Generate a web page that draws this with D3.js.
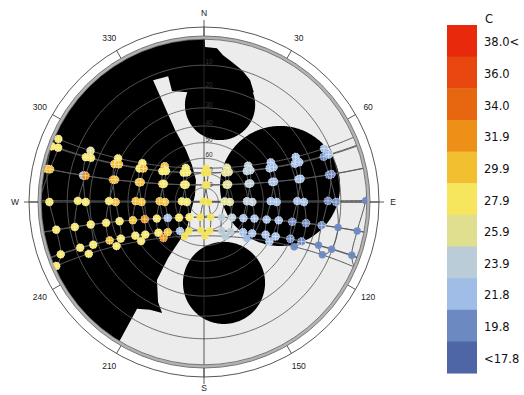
<!DOCTYPE html>
<html><head><meta charset="utf-8">
<script src="https://cdn.jsdelivr.net/npm/d3@7"></script>
<style>html,body{margin:0;padding:0;background:#fff}svg{display:block}</style>
</head><body>
<svg id="chart" width="524" height="395"></svg>
<script>
// ---------------- data ----------------
const months = ["Jan","Feb","Mar","Apr","May","Jun","Jul","Aug","Sep","Oct","Nov","Dec"];
// declination of each monthly sun-path line (deg)
const declination = [-20.0,-10.6,0.0,11.9,20.1,23.4,20.4,12.0,0.5,-10.7,-19.8,-23.4];
// shift of solar time against clock time for each month (minutes, the analemma width)
const timeShift = [-11.2,-13.8,-7.1,1.2,3.5,-1.6,-6.3,-3.1,6.9,15.4,14.0,1.9];
const clockOffsetMin = 65;     // clock noon vs. solar noon
const siteLatitude = 0;        // equinox path passes through the zenith
const clockHours = [7,8,9,10,11,12,13,14,15,16,17,18,19];
// dry bulb temperature (C) per month (rows) and clock hour (columns)
const temperature = [
  [19.0,19.5,19.5,20.5,21.0,23.0,27.0,27.0,28.5,27.0,27.0,27.0,27.0],
  [19.0,19.5,19.5,20.5,21.0,23.0,27.0,27.0,21.0,30.5,27.0,27.0,27.0],
  [19.5,19.5,20.5,21.5,23.0,25.0,27.0,27.0,28.5,28.5,28.5,27.0,27.0],
  [19.5,19.5,21.0,21.0,22.5,24.5,27.0,27.0,28.5,28.5,30.5,21.0,28.5],
  [19.5,19.5,21.0,21.0,23.0,25.0,27.0,27.0,27.0,27.0,28.5,27.0,27.0],
  [19.5,20.5,21.0,21.5,23.0,24.5,27.0,27.0,28.5,27.0,27.0,24.5,27.0],
  [19.5,20.5,21.0,21.5,23.0,25.0,27.0,27.0,27.0,28.5,28.5,27.0,27.0],
  [19.5,19.5,21.0,21.0,22.5,24.5,27.0,27.0,27.0,28.5,28.5,30.5,28.5],
  [19.5,19.5,20.5,21.5,22.5,25.0,27.0,27.0,28.5,28.5,27.0,27.0,27.0],
  [19.0,19.5,19.5,20.5,21.0,23.0,27.0,27.0,27.0,28.5,27.0,27.0,27.0],
  [19.0,19.5,19.5,20.5,21.0,23.0,27.0,21.0,27.0,27.0,28.5,27.0,27.0],
  [19.0,19.5,19.5,20.5,21.0,23.0,27.0,27.0,30.5,27.0,27.0,27.0,27.0]
];
// legend
const legendLabels = ["38.0<","36.0","34.0","31.9","29.9","27.9","25.9","23.9","21.8","19.8","<17.8"];
const legendColors = ["#e8290b","#e8470f","#e6670f","#ee9017","#f2bf31","#f6e65e","#e0df90","#b9ccd7","#a0bde8","#6d89c2","#4e66a6"];
const thresholds = [17.8,19.8,21.8,23.9,25.9,27.9,29.9,31.9,34.0,36.0];
const legendTitle = "C";
// sky grid
const altitudeRings = [10,20,30,40,50,60,70,80];
const azimuthTicks = [0,30,60,90,120,150,180,210,240,270,300,330];
const azimuthLabels = [30,60,120,150,210,240,300,330];
const cardinals = [["N",0],["E",90],["S",180],["W",270]];
// obstruction mask (azimuth, altitude in deg)
const obstructionOutline = [
  [0,-6],[0.4,2.9],[4.8,3.1],[7.4,5.5],[11.3,7.6],[16.1,9.8],[20.7,12.7],[24.4,17.0],
  [16.3,21.8],[343.9,19.4],[344.1,12.5],[337.3,12.0],[338.1,39.1],[340.9,52.7],
  [342.0,63.1],[340.0,73.6],[307.9,82.0],[232.4,78.5],[213.2,68.4],[212.3,59.2],
  [212.7,45.6],[211.1,31.6],[204.7,22.0],[200.7,17.9],[206.6,17.0],[212.1,14.6],
  [211.3,0.5],[211,-6],[240,-6],[270,-6],[300,-6],[330,-6]
];
const obstructionCircles = [
  {az:9.4, alt:29.5, radius:18.1},
  {az:78.1, alt:43.6, radius:34.0},
  {az:166.1, alt:38.1, radius:22.8}
];

// ---------------- drawing ----------------
const cx = 204, cy = 202, R = 163;
const svg = d3.select("#chart");
svg.append("defs").append("clipPath").attr("id","disc")
  .append("circle").attr("cx",cx).attr("cy",cy).attr("r",R);

const hz = (az, alt) => [180 - az, alt];
const horiz = d3.geoStereographic().rotate([0,-90]).scale(R).translate([cx,cy]).clipAngle(90).precision(0.1);
const equat = d3.geoStereographic().rotate([0,-siteLatitude]).scale(R).translate([cx,cy]).clipAngle(90).precision(0.1);
const hPath = d3.geoPath(horiz), ePath = d3.geoPath(equat);
const color = d3.scaleThreshold().domain(thresholds).range(legendColors.slice().reverse());
const azAngle = d3.scaleLinear().domain([0,360]).range([0, 2*Math.PI]);
const polar = (az, r) => [cx + r*Math.sin(azAngle(az)), cy - r*Math.cos(azAngle(az))];

// sky disc
svg.append("circle").attr("cx",cx).attr("cy",cy).attr("r",R).attr("fill","#ececec");

// obstruction mask
const mask = svg.append("g").attr("clip-path","url(#disc)");
const maskPts = obstructionOutline.map(([az,alt]) => horiz(hz(az,alt)));
mask.append("path").attr("d", d3.line()(maskPts) + "Z").attr("fill","#000");
obstructionCircles.forEach(c => {
  mask.append("path")
    .attr("d", hPath(d3.geoCircle().center(hz(c.az,c.alt)).radius(c.radius).precision(1)()))
    .attr("fill","#000");
});

// altitude rings
const grid = svg.append("g").attr("clip-path","url(#disc)").attr("fill","none");
altitudeRings.forEach(a => {
  grid.append("path").attr("d", hPath(d3.geoCircle().center([0,90]).radius(90-a).precision(1)()))
    .attr("stroke","#5e5e5e").attr("stroke-width",0.9);
});
// altitude labels
altitudeRings.forEach(a => {
  const p = horiz(hz(0,a));
  svg.append("text").attr("x", p[0]+1.5).attr("y", p[1]-1).text(a)
    .attr("font-family","Liberation Sans, Arial, sans-serif").attr("font-size",6.5).attr("fill","#333");
});

// sun path: monthly declination lines
const solarLon = (mi, h) => -15 * (h - clockOffsetMin/60 + timeShift[mi]/60 - 12);
declination.forEach(d => {
  const ring = d3.geoCircle().center([0,90]).radius(90-d).precision(1)().coordinates[0];
  grid.append("path").attr("d", ePath({type:"LineString", coordinates: ring}))
    .attr("stroke","#5a5a5a").attr("stroke-width",1);
});
// hourly analemmas
clockHours.forEach(h => {
  const pts = months.map((m,i) => equat([solarLon(i,h), declination[i]]));
  grid.append("path").attr("d", d3.line().curve(d3.curveCatmullRomClosed.alpha(0.5))(pts))
    .attr("stroke","#5a5a5a").attr("stroke-width",1);
});

// compass axes
const axes = svg.append("g").attr("stroke","#333").attr("stroke-width",0.8);
axes.append("line").attr("x1",cx).attr("x2",cx).attr("y1",cy-182).attr("y2",cy+182);
axes.append("line").attr("x1",cx-180).attr("x2",cx+180).attr("y1",cy).attr("y2",cy);

// horizon band and outer ring
svg.append("circle").attr("cx",cx).attr("cy",cy).attr("r",R+1.4).attr("fill","none").attr("stroke","#b3b3b3").attr("stroke-width",3);
svg.append("circle").attr("cx",cx).attr("cy",cy).attr("r",R+3).attr("fill","none").attr("stroke","#6a6a6a").attr("stroke-width",0.9);
svg.append("circle").attr("cx",cx).attr("cy",cy).attr("r",R-0.2).attr("fill","none").attr("stroke","#6a6a6a").attr("stroke-width",0.9);
svg.append("circle").attr("cx",cx).attr("cy",cy).attr("r",175).attr("fill","none").attr("stroke","#444").attr("stroke-width",0.9);
azimuthTicks.forEach(a => {
  const p1 = polar(a, R+3), p2 = polar(a, 175);
  svg.append("line").attr("x1",p1[0]).attr("y1",p1[1]).attr("x2",p2[0]).attr("y2",p2[1])
    .attr("stroke","#444").attr("stroke-width",0.9);
});
const labelFont = "Liberation Sans, Arial, sans-serif";
azimuthLabels.forEach(a => {
  const p = polar(a, 189.5);
  svg.append("text").attr("x",p[0]).attr("y",p[1]).attr("dy","0.35em").attr("text-anchor","middle")
    .attr("font-family",labelFont).attr("font-size",8.5).attr("fill","#222").text(a);
});
cardinals.forEach(([t,a]) => {
  const p = polar(a, a === 180 ? 186 : 189);
  svg.append("text").attr("x",p[0]).attr("y",p[1]).attr("dy","0.35em").attr("text-anchor","middle")
    .attr("font-family",labelFont).attr("font-size",8.5).attr("fill","#222").text(t);
});

// sun positions coloured by temperature
const dots = svg.append("g").attr("clip-path","url(#disc)");
const zenith = [0, siteLatitude];
months.forEach((m, i) => {
  clockHours.forEach((h, j) => {
    const p = [solarLon(i,h), declination[i]];
    if (d3.geoDistance(p, zenith) >= Math.PI/2) return;
    const xy = equat(p);
    const sky = horiz.invert(xy);
    const shaded = d3.polygonContains(maskPts, xy) ||
      obstructionCircles.some(c => d3.geoDistance(sky, hz(c.az,c.alt)) < c.radius*Math.PI/180);
    const col = color(temperature[i][j]);
    if (shaded) {
      dots.append("circle").attr("cx",xy[0]).attr("cy",xy[1]).attr("r",3.9)
        .attr("fill",col).attr("stroke","#fff").attr("stroke-width",0.7).attr("stroke-dasharray","1.6 1.1");
      dots.append("path").attr("d",`M${xy[0]-3.6},${xy[1]}h7.2M${xy[0]},${xy[1]-3.6}v7.2`)
        .attr("stroke","#fff").attr("stroke-width",0.6).attr("opacity",0.8);
    } else {
      dots.append("circle").attr("cx",xy[0]).attr("cy",xy[1]).attr("r",3.7)
        .attr("fill",col).attr("opacity",0.95);
    }
  });
});

// legend
const lx = 447, ly = 25, lw = 30, lh = 31.64;
const legend = svg.append("g");
legendColors.forEach((c, i) => {
  legend.append("rect").attr("x",lx).attr("y",ly + i*lh).attr("width",lw).attr("height",lh+0.5).attr("fill",c);
});
const legendFont = "DejaVu Sans, Verdana, sans-serif";
legend.append("text").attr("x",lx+38).attr("y",ly-2).text(legendTitle)
  .attr("font-family",legendFont).attr("font-size",11.5).attr("fill","#111");
legendLabels.forEach((t, i) => {
  legend.append("text").attr("x",lx+37).attr("y",ly + lh*(i+0.5) + 1.5).attr("dy","0.35em").text(t)
    .attr("font-family",legendFont).attr("font-size",11.5).attr("fill","#111");
});
</script>
</body></html>
